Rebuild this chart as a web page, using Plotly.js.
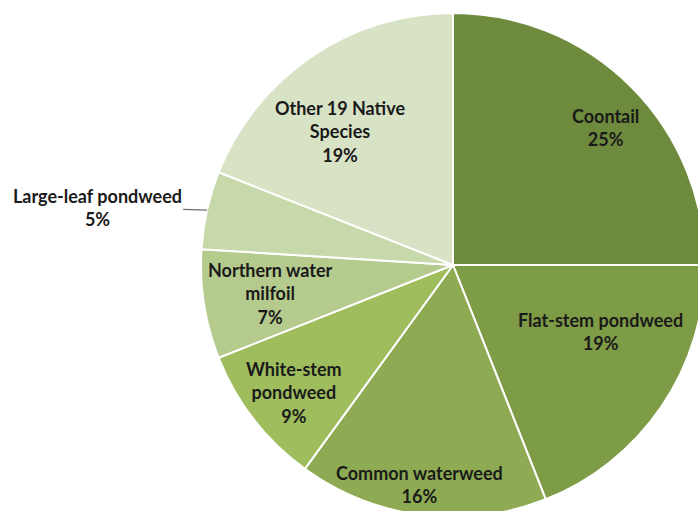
<!DOCTYPE html>
<html>
<head>
<meta charset="utf-8">
<script src="https://cdn.plot.ly/plotly-3.0.1.min.js"></script>
<style>
html,body{margin:0;padding:0;overflow:hidden;background:#fff;width:698px;height:511px;}
#chart{width:760px;height:530px;}
</style>
</head>
<body>
<div id="chart"></div>
<script>
var categories = ["Coontail", "Flat-stem pondweed", "Common waterweed", "White-stem pondweed", "Northern water milfoil", "Large-leaf pondweed", "Other 19 Native Species"];
var displayLabels = ["Coontail", "Flat-stem pondweed", "Common waterweed", "White-stem<br>pondweed", "Northern water<br>milfoil", "Large-leaf pondweed", "Other 19 Native<br>Species"];
var percentValues = [25, 19, 16, 9, 7, 5, 19];

// styling / label placement (not data)
var sliceColors = ["#6e8b3d", "#7e9b46", "#8eab53", "#9fbd5d", "#b5cb8e", "#c7d8aa", "#d8e3c6"];
var labelRadiusFrac = [0.815, 0.64, 0.88, 0.81, 0.735, 1.0, 0.695];
var labelAngleNudge = [2.8, -10, 1.4, -0.9, 0, 0, -5.9];
var outsideLabel = [false, false, false, false, false, true, false];
var outsideOffset = {ax: -110, ay: -3};

var labelFont = {family: "Lato, 'Open Sans', sans-serif", size: 18, weight: "bold", color: "#1a1a1a"};

var trace = {
  type: "pie",
  labels: categories,
  values: percentValues,
  textinfo: "none",
  sort: false,
  direction: "clockwise",
  rotation: 0,
  marker: {colors: sliceColors, line: {color: "#ffffff", width: 2}},
  hoverinfo: "label+percent",
  showlegend: false,
  domain: {x: [0, 1], y: [0, 1]}
};

// label positions derived from slice mid-angles
var total = percentValues.reduce(function(a, b) { return a + b; }, 0);
var annotations = [];
var cum = 0;
for (var i = 0; i < percentValues.length; i++) {
  var mid = (cum + percentValues[i] / 2) / total * 360;
  cum += percentValues[i];
  var a = (mid + labelAngleNudge[i]) * Math.PI / 180;
  var f = labelRadiusFrac[i];
  var x = 0.5 + 0.5 * f * Math.sin(a);
  var y = 0.5 + 0.5 * f * Math.cos(a);
  var txt = displayLabels[i] + "<br>" + percentValues[i] + "%";
  if (outsideLabel[i]) {
    annotations.push({
      xref: "paper", yref: "paper", x: x, y: y,
      text: txt, showarrow: true, arrowhead: 0, arrowwidth: 1.3, arrowcolor: "#6f6f6f",
      ax: outsideOffset.ax, ay: outsideOffset.ay, standoff: 0,
      font: labelFont, align: "center"
    });
  } else {
    annotations.push({
      xref: "paper", yref: "paper", x: x, y: y,
      xanchor: "center", yanchor: "middle",
      text: txt, showarrow: false, font: labelFont, align: "center"
    });
  }
}

var layout = {
  width: 760,
  height: 530,
  margin: {l: 201, r: 55, t: 13, b: 13},
  paper_bgcolor: "#ffffff",
  showlegend: false,
  annotations: annotations
};

Plotly.newPlot("chart", [trace], layout, {displayModeBar: false, staticPlot: true});
</script>
</body>
</html>
